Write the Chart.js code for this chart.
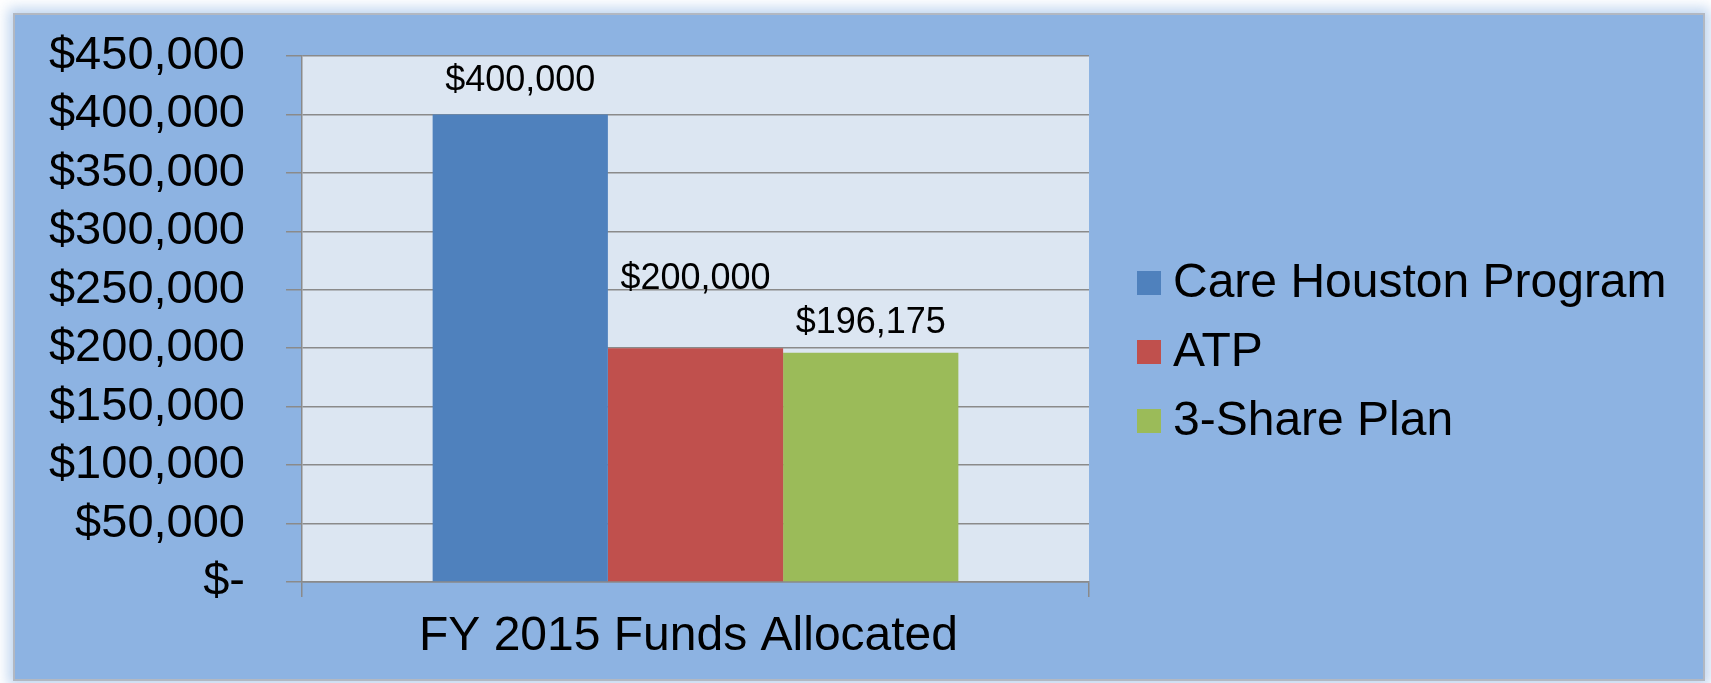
<!DOCTYPE html>
<html><head><meta charset="utf-8">
<script src="https://cdn.jsdelivr.net/npm/chart.js@4.4.1/dist/chart.umd.min.js"></script>
<style>
html,body{margin:0;padding:0;background:#fff;width:1711px;height:683px;overflow:hidden;}
#frame{position:absolute;left:13px;top:13px;width:1688px;height:664px;background:#8DB3E2;border:2px solid #B2B8C2;box-shadow:0 0 12px 5px rgba(141,179,226,0.55);}
#c{position:absolute;left:0;top:0;}
</style></head><body>
<div id="frame"></div>
<canvas id="c" width="1711" height="683"></canvas>
<script>
// ---- data ----
const categories = ['FY 2015 Funds Allocated'];
const seriesNames = ['Care Houston Program', 'ATP', '3-Share Plan'];
const careHoustonValues = [400000];
const atpValues = [200000];
const threeShareValues = [196175];
const yTickValues = [0, 50000, 100000, 150000, 200000, 250000, 300000, 350000, 400000, 450000];
const yTickLabels = ['$-', '$50,000', '$100,000', '$150,000', '$200,000', '$250,000', '$300,000', '$350,000', '$400,000', '$450,000'];

const colors = ['#4F81BD', '#C0504D', '#9BBB59'];
const FONT = "'Liberation Sans', Arial, sans-serif";
const GRID = '#8A8A8A';

function money(v) { return '$' + v.toLocaleString('en-US'); }

const plotBg = {
  id: 'plotBg',
  beforeDraw(chart) {
    const a = chart.chartArea, ctx = chart.ctx;
    ctx.save();
    ctx.fillStyle = '#DCE6F2';
    ctx.fillRect(a.left, a.top, a.right - a.left, a.bottom - a.top);
    ctx.restore();
  }
};

// label offsets above bar tops (Excel shifts labels to avoid overlap)
const labelOffsets = [23, 59, 20];
const barLabels = {
  id: 'barLabels',
  afterDatasetsDraw(chart) {
    const ctx = chart.ctx;
    ctx.save();
    ctx.font = '36px ' + FONT;
    ctx.fillStyle = '#000';
    ctx.textAlign = 'center';
    ctx.textBaseline = 'alphabetic';
    chart.data.datasets.forEach((ds, i) => {
      const meta = chart.getDatasetMeta(i);
      meta.data.forEach((el, j) => {
        ctx.fillText(money(ds.data[j]), el.x, el.y - labelOffsets[i]);
      });
    });
    ctx.restore();
  }
};

const customLegend = {
  id: 'customLegend',
  afterDraw(chart) {
    const ctx = chart.ctx, a = chart.chartArea;
    const x0 = a.right + 48;
    const y0 = 283, step = 69, box = 24;
    ctx.save();
    ctx.font = '48px ' + FONT;
    ctx.textAlign = 'left';
    ctx.textBaseline = 'middle';
    chart.data.datasets.forEach((ds, i) => {
      const cy = y0 + i * step;
      ctx.fillStyle = ds.backgroundColor;
      ctx.fillRect(x0, cy - box / 2, box, box);
      ctx.fillStyle = '#000';
      ctx.fillText(ds.label, x0 + 36, cy + 1);
    });
    ctx.restore();
  }
};

new Chart(document.getElementById('c'), {
  type: 'bar',
  data: {
    labels: categories,
    datasets: [
      { label: seriesNames[0], data: careHoustonValues, backgroundColor: colors[0] },
      { label: seriesNames[1], data: atpValues, backgroundColor: colors[1] },
      { label: seriesNames[2], data: threeShareValues, backgroundColor: colors[2] }
    ]
  },
  options: {
    responsive: false,
    animation: false,
    devicePixelRatio: 1,
    layout: { padding: { left: 0, top: 56, right: 622, bottom: 0 } },
    datasets: { bar: { categoryPercentage: 0.668, barPercentage: 1.0, borderWidth: 0 } },
    plugins: { legend: { display: false }, tooltip: { enabled: false }, title: { display: false } },
    scales: {
      x: {
        grid: { offset: true, drawOnChartArea: false, drawTicks: true, tickLength: 15, color: GRID, lineWidth: 1.5 },
        border: { display: true, color: GRID, width: 1.5 },
        ticks: { color: '#000', font: { family: FONT, size: 48 }, padding: 11, labelOffset: -7 },
        afterFit(s) { s.height = 101; s.paddingLeft = 0; s.paddingRight = 0; }
      },
      y: {
        min: 0, max: 450000,
        afterBuildTicks(s) { s.ticks = yTickValues.map(v => ({ value: v })); },
        grid: { color: GRID, lineWidth: 1.5, tickLength: 16, drawTicks: true },
        border: { display: true, color: GRID, width: 1.5 },
        ticks: {
          autoSkip: false,
          color: '#000', font: { family: FONT, size: 47 }, padding: 41,
          callback(v) { const k = yTickValues.indexOf(v); return k >= 0 ? yTickLabels[k] : ''; }
        },
        afterFit(s) { s.width = 302; s.paddingTop = 0; s.paddingBottom = 0; }
      }
    }
  },
  plugins: [plotBg, barLabels, customLegend]
});
</script>
</body></html>
